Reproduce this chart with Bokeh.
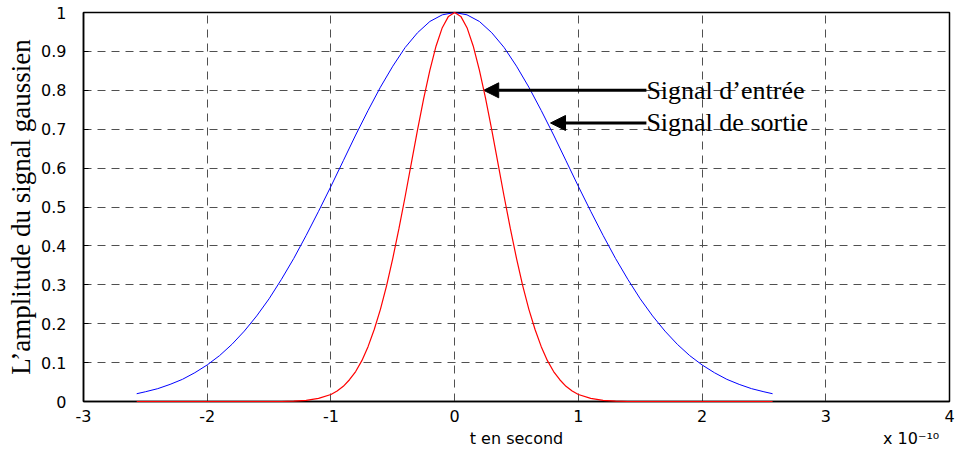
from bokeh.plotting import figure
from bokeh.models import Range1d, FixedTicker, Arrow, NormalHead, ColumnDataSource
from bokeh.core.properties import value
from bokeh.embed import file_html
from bokeh.resources import INLINE

# ---- data (t in units of 1e-10 s) ----
blue_t = [-2.57, -2.5, -2.4, -2.3, -2.2, -2.1, -2.0, -1.9, -1.8, -1.7, -1.6, -1.5, -1.4, -1.3,
          -1.2, -1.1, -1.0, -0.9, -0.8, -0.7, -0.6, -0.5, -0.4, -0.3, -0.2, -0.1, 0.0,
          0.1, 0.2, 0.3, 0.4, 0.5, 0.6, 0.7, 0.8, 0.9, 1.0, 1.1, 1.2, 1.3,
          1.4, 1.5, 1.6, 1.7, 1.8, 1.9, 2.0, 2.1, 2.2, 2.3, 2.4, 2.5, 2.57]
blue_y = [0.020, 0.025, 0.033, 0.044, 0.057, 0.074, 0.094, 0.118, 0.147, 0.181, 0.220, 0.264, 0.314, 0.368,
          0.427, 0.489, 0.553, 0.619, 0.685, 0.748, 0.808, 0.862, 0.910, 0.948, 0.977, 0.994, 1.000,
          0.994, 0.977, 0.948, 0.910, 0.862, 0.808, 0.748, 0.685, 0.619, 0.553, 0.489, 0.427, 0.368,
          0.314, 0.264, 0.220, 0.181, 0.147, 0.118, 0.094, 0.074, 0.057, 0.044, 0.033, 0.025, 0.020]

red_t = [-2.57, -1.4, -1.3, -1.2, -1.1, -1.0, -0.95, -0.9, -0.85, -0.8, -0.75, -0.7, -0.65, -0.6,
         -0.55, -0.5, -0.45, -0.4, -0.35, -0.3, -0.25, -0.2, -0.15, -0.1, -0.05, 0.0,
         0.05, 0.1, 0.15, 0.2, 0.25, 0.3, 0.35, 0.4, 0.45, 0.5, 0.55, 0.6, 0.65, 0.7,
         0.75, 0.8, 0.85, 0.9, 0.95, 1.0, 1.1, 1.2, 1.3, 1.4, 2.57]
red_y = [0.000, 0.000, 0.001, 0.003, 0.008, 0.018, 0.027, 0.039, 0.056, 0.077, 0.105, 0.141, 0.185, 0.237,
         0.298, 0.368, 0.445, 0.527, 0.613, 0.698, 0.779, 0.852, 0.914, 0.961, 0.990, 1.000,
         0.990, 0.961, 0.914, 0.852, 0.779, 0.698, 0.613, 0.527, 0.445, 0.368, 0.298, 0.237, 0.185, 0.141,
         0.105, 0.077, 0.056, 0.039, 0.027, 0.018, 0.008, 0.003, 0.001, 0.000, 0.000]

x_ticks = [-3, -2, -1, 0, 1, 2, 3, 4]
x_tick_labels = ["-3", "-2", "-1", "0", "1", "2", "3", "4"]
y_ticks = [0, 0.1, 0.2, 0.3, 0.4, 0.5, 0.6, 0.7, 0.8, 0.9, 1.0]
y_tick_labels = ["0", "0.1", "0.2", "0.3", "0.4", "0.5", "0.6", "0.7", "0.8", "0.9", "1"]

annot_texts = ["Signal d\u2019entr\u00e9e", "Signal de sortie"]
annot_y = [0.8, 0.716]
arrow_tail_x = [1.55, 1.55]
arrow_head_x = [0.235, 0.775]

x_label = "t en second"
y_label = "L\u2019amplitude du signal gaussien"
exp_text = "x 10\u207b\u00b9\u2070"
x_label_pos = 0.5      # centre of the x range
exp_pos = 3.69         # under the right end of the axis

# ---- figure ----
p = figure(width=960, height=452, output_backend="svg", toolbar_location=None,
           x_range=Range1d(-3, 4), y_range=Range1d(0, 1),
           min_border_left=83, min_border_right=11, min_border_top=12, min_border_bottom=51)
p.background_fill_color = "white"
p.border_fill_color = "white"
p.outline_line_color = "black"
p.outline_line_width = 1.5

# grid
for g, ticks in ((p.xgrid, x_ticks), (p.ygrid, y_ticks)):
    g.ticker = FixedTicker(ticks=ticks)
    g.grid_line_color = "#505050"
    g.grid_line_width = 1
    g.grid_line_dash = "8 6"

# axes
xa = p.xaxis[0]
ya = p.yaxis[0]
# the x axis label and the exponent are drawn as second lines of extra tick labels,
# so that they sit outside the (clipped) frame without taking extra layout space
xa.ticker = FixedTicker(ticks=x_ticks + [x_label_pos, exp_pos])
overrides = {t: l for t, l in zip(x_ticks, x_tick_labels)}
overrides[x_label_pos] = "\n" + x_label
overrides[exp_pos] = "\n" + exp_text
xa.major_label_overrides = overrides
ya.ticker = FixedTicker(ticks=y_ticks)
ya.major_label_overrides = {t: l for t, l in zip(y_ticks, y_tick_labels)}
for ax in (xa, ya):
    ax.axis_line_color = "black"
    ax.axis_line_width = 1.5
    ax.major_tick_out = 0
    ax.major_tick_line_color = "black"
    ax.minor_tick_line_color = None
    ax.major_label_text_font = "DejaVu Sans"
    ax.major_label_text_font_size = "16px"
    ax.major_label_text_color = "black"
    ax.axis_label_text_font_style = "normal"
    ax.axis_label_text_color = "black"
xa.major_tick_in = 0
ya.major_tick_in = 5
xa.major_label_standoff = 5

ya.axis_label = y_label
ya.axis_label_text_font = "Liberation Serif"
ya.axis_label_text_font_size = "27px"
ya.major_label_standoff = 17
ya.axis_label_standoff = 2

# curves
p.line(blue_t, blue_y, line_color="#0000ff", line_width=1)
r_red = p.line(red_t, red_y, line_color="#ff0000", line_width=1.2)
r_red.level = "overlay"

# arrows + annotations
for xt, xh, yy in zip(arrow_tail_x, arrow_head_x, annot_y):
    p.add_layout(Arrow(end=NormalHead(size=15, fill_color="black", line_color="black"),
                       x_start=xt, y_start=yy, x_end=xh, y_end=yy,
                       line_color="black", line_width=3))
src = ColumnDataSource(dict(x=arrow_tail_x, y=annot_y, text=annot_texts))
p.text(x="x", y="y", text="text", source=src, text_font=value("Liberation Serif"),
       text_font_size="26px", text_baseline="middle", text_align="left", text_color="black")

open("out.html", "w").write(file_html(p, INLINE))
